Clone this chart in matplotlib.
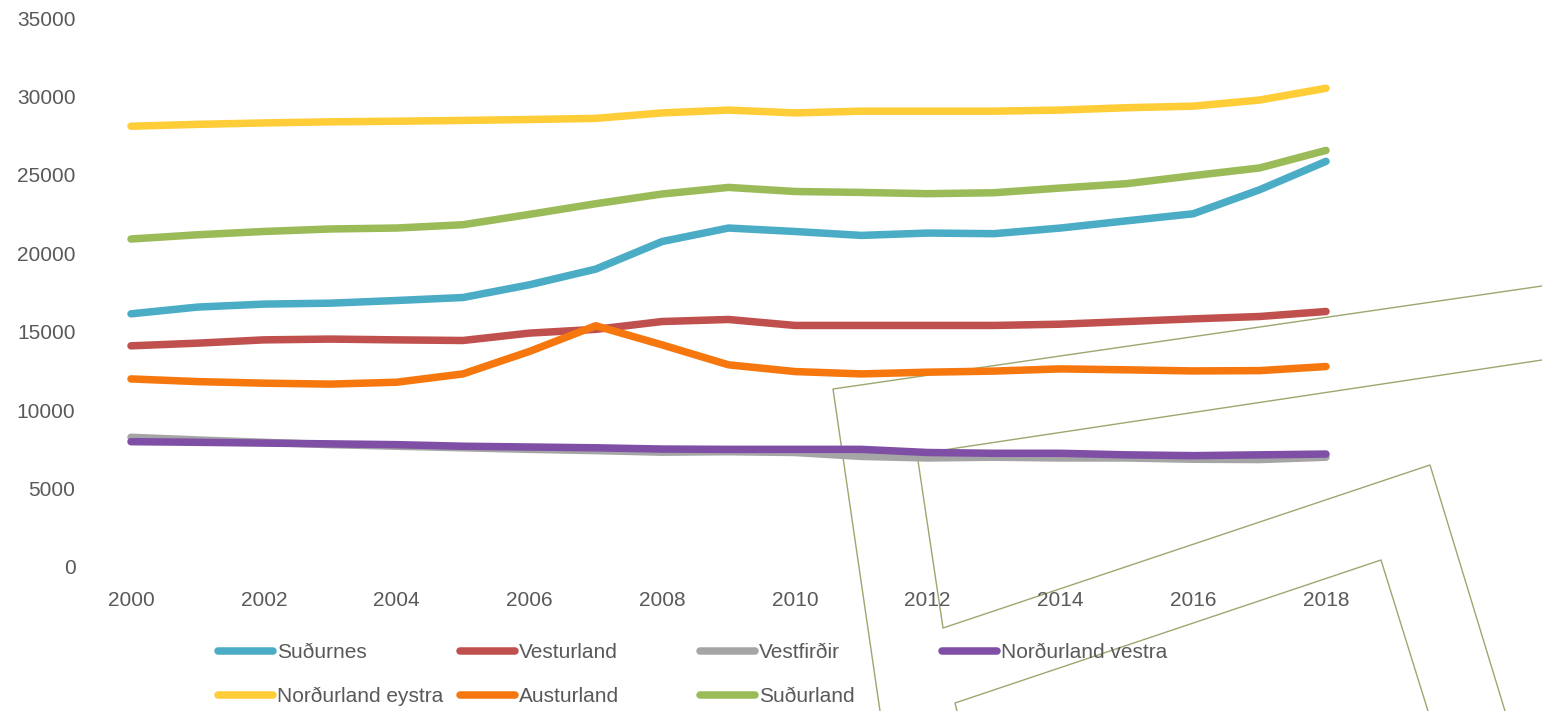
import matplotlib
matplotlib.use("Agg")
import matplotlib.pyplot as plt
from matplotlib.lines import Line2D

plt.rcParams['font.family'] = ['Liberation Sans', 'DejaVu Sans']

years = list(range(2000, 2019))

sudurnes = [16140, 16570, 16760, 16820, 16990, 17180, 17990, 18990, 20750, 21610,
            21390, 21140, 21290, 21250, 21610, 22070, 22520, 24050, 25860]
vesturland = [14100, 14270, 14480, 14530, 14480, 14440, 14910, 15150, 15650, 15780,
              15400, 15400, 15400, 15400, 15480, 15650, 15820, 15970, 16290]
vestfirdir = [8270, 8100, 7950, 7800, 7700, 7600, 7500, 7420, 7320, 7350,
              7300, 7050, 6950, 7000, 6950, 6950, 6870, 6850, 7000]
nordurland_vestra = [7990, 7950, 7900, 7850, 7800, 7700, 7650, 7600, 7520, 7500,
                     7500, 7500, 7300, 7250, 7250, 7150, 7100, 7150, 7200]
nordurland_eystra = [28100, 28220, 28310, 28380, 28420, 28470, 28530, 28600, 28950, 29130,
                     28950, 29060, 29060, 29060, 29130, 29280, 29380, 29770, 30520]
austurland = [11990, 11820, 11720, 11660, 11780, 12310, 13740, 15380, 14160, 12890,
              12460, 12310, 12420, 12490, 12630, 12570, 12500, 12520, 12780]
sudurland = [20910, 21180, 21390, 21550, 21610, 21820, 22480, 23160, 23780, 24200,
             23940, 23880, 23800, 23860, 24160, 24440, 24950, 25440, 26560]

names = ['Suðurnes', 'Vesturland', 'Vestfirðir', 'Norðurland vestra',
         'Norðurland eystra', 'Austurland', 'Suðurland']
series = [sudurnes, vesturland, vestfirdir, nordurland_vestra,
          nordurland_eystra, austurland, sudurland]
colors = ['#4BACC6', '#C0504D', '#A5A5A5', '#7E4FA5',
          '#FFCD37', '#F5770D', '#9BBB59']

W, H = 1542, 711
fig = plt.figure(figsize=(W / 100, H / 100), dpi=100)
ax = fig.add_axes([131 / W, (H - 567) / H, (1326 - 131) / W, (567 - 18) / H])
ax.patch.set_visible(False)

lines = []
for name, vals, col in zip(names, series, colors):
    ln, = ax.plot(years, vals, color=col, lw=5.4, solid_capstyle='round',
                  solid_joinstyle='round', clip_on=False, label=name)
    lines.append(ln)

ax.set_xlim(2000, 2018)
ax.set_ylim(0, 35000)
ax.set_xticks(range(2000, 2019, 2))
ax.set_yticks(range(0, 35001, 5000))
for s in ax.spines.values():
    s.set_visible(False)
ax.tick_params(axis='both', length=0, labelsize=15, labelcolor='#595959')
ax.tick_params(axis='y', pad=40)
ax.tick_params(axis='x', pad=17)

# decorative background shapes of the slide
deco = [
    [(1542, 286), (833, 389), (880, 711)],
    [(1542, 360), (917, 454), (943, 628), (1430, 465), (1505, 711)],
    [(957, 711), (955, 703), (1381, 560), (1428, 711)],
]
for pts in deco:
    xs = [p[0] / W for p in pts]
    ys = [1 - p[1] / H for p in pts]
    fig.add_artist(Line2D(xs, ys, transform=fig.transFigure, color='#9AA870',
                          lw=1, zorder=-1))

# legend, one block per column
cols = [[0, 4], [1, 5], [2, 6], [3]]
col_x = [218, 460, 700, 942]
for idx, x0 in zip(cols, col_x):
    fig.legend(handles=[lines[i] for i in idx], loc='upper left',
               bbox_to_anchor=(x0 / W, 1 - 643 / H), frameon=False,
               borderpad=0, borderaxespad=0, handlelength=2.65,
               handletextpad=0.2, labelspacing=1.2, fontsize=15,
               labelcolor='#595959')

fig.savefig('out.png', dpi=100)
